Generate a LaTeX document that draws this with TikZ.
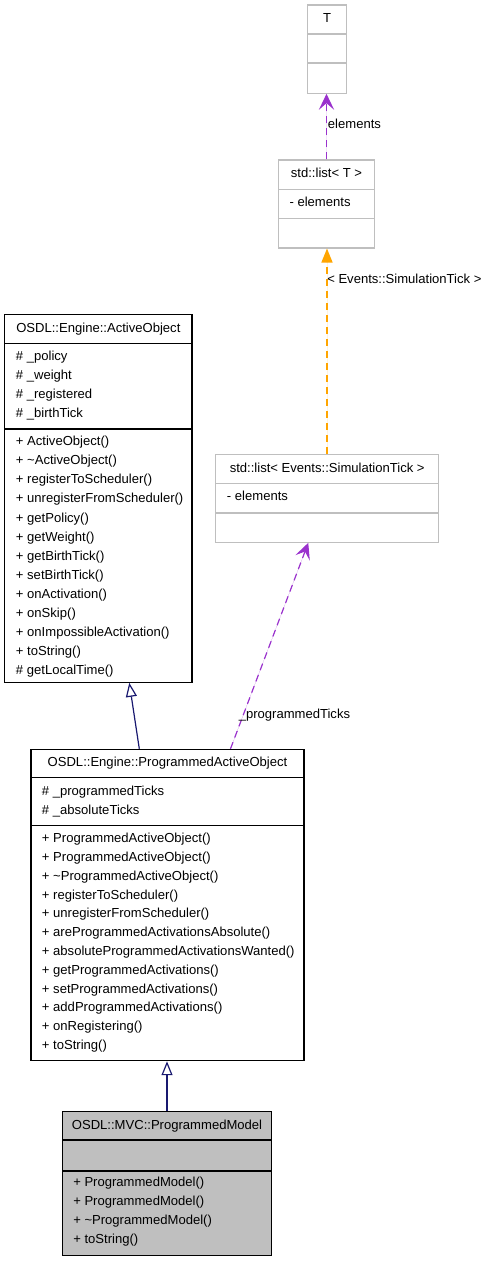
\documentclass[tikz,border=0pt]{standalone}
\usepackage{fontspec}
\setmainfont{Liberation Sans}
\usepackage{tikz}
\usetikzlibrary{arrows.meta,fit}
\definecolor{grey75}{HTML}{BFBFBF}
\definecolor{usepurple}{HTML}{9A32CD}
\definecolor{tmplorange}{HTML}{FFA500}
\definecolor{midblue}{HTML}{191970}
\begin{document}
\begin{tikzpicture}[x=0.75pt, y=-0.75pt, font=\fontsize{9.8}{11}\selectfont,
    box/.style={draw=black, line width=0.8pt},
    greybox/.style={draw=grey75, line width=0.8pt},
    modelbox/.style={draw=black, fill=grey75, line width=0.8pt},
    title/.style={text height=7pt, text depth=2pt},
    member/.style={anchor=west, text height=7pt, text depth=2pt},
    inherit/.style={draw=midblue, line width=0.9pt, -{Triangle[open, length=10.5pt, width=8.25pt]}},
    usage/.style={draw=usepurple, fill=usepurple, line width=0.9pt, dash pattern=on 5.25pt off 3.75pt, -{Stealth[length=12pt, width=11.5pt, inset=5pt]}},
    tmpl/.style={draw=tmplorange, fill=tmplorange, line width=1.1pt, dash pattern=on 5.25pt off 3.75pt, -{Triangle[length=10.5pt, width=8.25pt]}}]
    \tikzstyle{every node}+=[inner sep=0pt]
    \useasboundingbox (0,0) rectangle (489,1261);
    % T
    \node [greybox, fit={(307.3,5) (346.7,34)}] (t-name) {};
    \node [greybox, fit={(307.3,34) (346.7,63)}] (t-attr) {};
    \node [greybox, fit={(307.3,63) (346.7,93.3)}] (t-meth) {};
    \node [title] (t-title) at (t-name) {T};
    % std::list< T >
    \node [greybox, fit={(278.3,160) (374.7,189.3)}] (l1-name) {};
    \node [greybox, fit={(278.3,189.3) (374.7,218.7)}] (l1-attr) {};
    \node [greybox, fit={(278.3,218.7) (374.7,248)}] (l1-meth) {};
    \node [title] (l1-title) at (l1-name) {std::list< T >};
    \node [member] (l1-a1) at (289.3,203) {- elements};
    % std::list< Events::SimulationTick >
    \node [greybox, fit={(215.7,454.7) (438.7,483.7)}] (l2-name) {};
    \node [greybox, fit={(215.7,483.7) (438.7,513)}] (l2-attr) {};
    \node [greybox, fit={(215.7,513) (438.7,542.3)}] (l2-meth) {};
    \node [title] (l2-title) at (l2-name) {std::list< Events::SimulationTick >};
    \node [member] (l2-a1) at (226.7,497) {- elements};
    % OSDL::Engine::ActiveObject
    \node [box, fit={(4.7,314.3) (192,343.3)}] (ao-name) {};
    \node [box, fit={(4.7,343.3) (192,429)}] (ao-attr) {};
    \node [box, fit={(4.7,429) (192,682.3)}] (ao-meth) {};
    \node [title] (ao-title) at (ao-name) {OSDL::Engine::ActiveObject};
    \node [member] (ao-a1) at (15.7,356.7) {\# \_policy};
    \node [member] (ao-a2) at (15.7,375.8) {\# \_weight};
    \node [member] (ao-a3) at (15.7,394.9) {\# \_registered};
    \node [member] (ao-a4) at (15.7,414) {\# \_birthTick};
    \node [member] (ao-m1) at (15.7,442.5) {+ ActiveObject()};
    \node [member] (ao-m2) at (15.7,461.5) {+ \textasciitilde ActiveObject()};
    \node [member] (ao-m3) at (15.7,480.6) {+ registerToScheduler()};
    \node [member] (ao-m4) at (15.7,499.6) {+ unregisterFromScheduler()};
    \node [member] (ao-m5) at (15.7,518.7) {+ getPolicy()};
    \node [member] (ao-m6) at (15.7,537.7) {+ getWeight()};
    \node [member] (ao-m7) at (15.7,556.8) {+ getBirthTick()};
    \node [member] (ao-m8) at (15.7,575.8) {+ setBirthTick()};
    \node [member] (ao-m9) at (15.7,594.9) {+ onActivation()};
    \node [member] (ao-m10) at (15.7,613.9) {+ onSkip()};
    \node [member] (ao-m11) at (15.7,633) {+ onImpossibleActivation()};
    \node [member] (ao-m12) at (15.7,652) {+ toString()};
    \node [member] (ao-m13) at (15.7,671.1) {\# getLocalTime()};
    % OSDL::Engine::ProgrammedActiveObject
    \node [box, fit={(31,749.3) (304,777.3)}] (pao-name) {};
    \node [box, fit={(31,777.3) (304,825.7)}] (pao-attr) {};
    \node [box, fit={(31,825.7) (304,1060.7)}] (pao-meth) {};
    \node [title] (pao-title) at (pao-name) {OSDL::Engine::ProgrammedActiveObject};
    \node [member] (pao-a1) at (41.7,791.7) {\# \_programmedTicks};
    \node [member] (pao-a2) at (41.7,810.7) {\# \_absoluteTicks};
    \node [member] (pao-m1) at (41.7,839.3) {+ ProgrammedActiveObject()};
    \node [member] (pao-m2) at (41.7,858.1) {+ ProgrammedActiveObject()};
    \node [member] (pao-m3) at (41.7,876.9) {+ \textasciitilde ProgrammedActiveObject()};
    \node [member] (pao-m4) at (41.7,895.7) {+ registerToScheduler()};
    \node [member] (pao-m5) at (41.7,914.5) {+ unregisterFromScheduler()};
    \node [member] (pao-m6) at (41.7,933.3) {+ areProgrammedActivationsAbsolute()};
    \node [member] (pao-m7) at (41.7,952.1) {+ absoluteProgrammedActivationsWanted()};
    \node [member] (pao-m8) at (41.7,970.9) {+ getProgrammedActivations()};
    \node [member] (pao-m9) at (41.7,989.7) {+ setProgrammedActivations()};
    \node [member] (pao-m10) at (41.7,1008.5) {+ addProgrammedActivations()};
    \node [member] (pao-m11) at (41.7,1027.3) {+ onRegistering()};
    \node [member] (pao-m12) at (41.7,1046.1) {+ toString()};
    % OSDL::MVC::ProgrammedModel
    \node [modelbox, fit={(62.3,1111.7) (271.7,1140)}] (pm-name) {};
    \node [modelbox, fit={(62.3,1140) (271.7,1171)}] (pm-attr) {};
    \node [modelbox, fit={(62.3,1171) (271.7,1255.7)}] (pm-meth) {};
    \node [title] (pm-title) at (pm-name) {OSDL::MVC::ProgrammedModel};
    \node [member] (pm-m1) at (73,1183.5) {+ ProgrammedModel()};
    \node [member] (pm-m2) at (73,1202.3) {+ ProgrammedModel()};
    \node [member] (pm-m3) at (73,1221) {+ \textasciitilde ProgrammedModel()};
    \node [member] (pm-m4) at (73,1240) {+ toString()};
    % connectors
    \draw [usage] (l1-name.north) -- (l1-name.north |- t-meth.south);
    \node [member] (lbl-elements) at (327.7,125) {elements};
    \draw [tmpl] ([xshift=-0.15pt]l2-name.north) -- ([xshift=-0.15pt]l2-name.north |- l1-meth.south);
    \node [member] (lbl-tick) at (327,280) {< Events::SimulationTick >};
    \draw [usage] ([xshift=47.25pt]pao-name.north) -- ([xshift=-14.2pt]l2-meth.south);
    \node [member] (lbl-ticks) at (238.5,715) {\_programmedTicks};
    \draw [inherit] ([xshift=-21.15pt]pao-name.north) -- ([xshift=23.2pt]ao-meth.south);
    \draw [inherit] (pm-name.north) -- (pm-name.north |- pao-meth.south);
\end{tikzpicture}
\end{document}
